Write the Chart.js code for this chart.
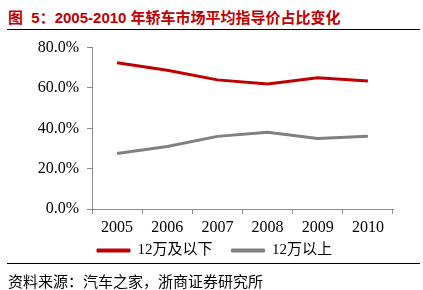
<!DOCTYPE html>
<html>
<head>
<meta charset="utf-8">
<script src="https://cdn.jsdelivr.net/npm/chart.js@4"></script>
<style>
  body { margin: 0; width: 423px; height: 290px; background: #fff; position: relative; overflow: hidden; }
  #title { position: absolute; left: 8px; top: 6px; font: bold 15px "Liberation Sans", "Noto Sans CJK SC"; color: #c00000; white-space: nowrap; }
  .rule { position: absolute; left: 7px; width: 413px; height: 0; border-top: 1.5px solid #000; }
  #source { position: absolute; left: 8px; top: 270px; font: 15px "Liberation Serif", "Noto Sans CJK SC"; color: #000; white-space: nowrap; }
  #wrap { position: absolute; left: 0; top: 30px; width: 423px; height: 238px; }
</style>
</head>
<body>
<div id="title">图&nbsp;&nbsp;5：2005-2010 年轿车市场平均指导价占比变化</div>
<div class="rule" style="top:29px"></div>
<div id="wrap"><canvas id="lineChart"></canvas></div>
<div class="rule" style="top:263px"></div>
<div id="source">资料来源：汽车之家，浙商证券研究所</div>
<script>
// Data
const years = ["2005", "2006", "2007", "2008", "2009", "2010"];
const below12 = [72.5, 68.8, 64.0, 62.0, 65.0, 63.5];
const above12 = [27.5, 31.0, 36.0, 38.0, 35.0, 36.0];
const yTicks = [0, 20, 40, 60, 80];

const serif = "'Liberation Serif', 'Noto Sans CJK SC'";
const axisGrey = "#8c8c8c";

// Legend items: thin line swatch, extra gap after the first entry
const legendLabels = (chart) => {
  const items = Chart.defaults.plugins.legend.labels.generateLabels(chart);
  items.forEach((item) => { item.lineWidth = 1; });
  items[0].text += "\u2003";
  return items;
};

const ctx = document.getElementById("lineChart").getContext("2d");

new Chart(ctx, {
  type: "line",
  data: {
    labels: years,
    datasets: [
      {
        label: "12万及以下",
        data: below12,
        borderColor: "#c00000",
        backgroundColor: "#c00000",
        borderWidth: 3,
        pointRadius: 0,
        tension: 0,
      },
      {
        label: "12万以上",
        data: above12,
        borderColor: "#808080",
        backgroundColor: "#808080",
        borderWidth: 3,
        pointRadius: 0,
        tension: 0,
      },
    ],
  },
  options: {
    responsive: true,
    maintainAspectRatio: false,
    animation: false,
    layout: { padding: { top: 11, right: 0, left: 6, bottom: 0 } },
    plugins: {
      tooltip: { enabled: false },
      legend: {
        position: "bottom",
        labels: {
          boxWidth: 33,
          boxHeight: 3,
          padding: 4,
          color: "#000",
          font: { family: serif, size: 15 },
          generateLabels: legendLabels,
        },
      },
    },
    scales: {
      x: {
        offset: true,
        border: { color: axisGrey, width: 1 },
        grid: { offset: true, drawOnChartArea: false, drawTicks: true, tickLength: 5, color: axisGrey },
        ticks: { color: "#000", font: { family: serif, size: 16 }, padding: 4, maxRotation: 0 },
        afterFit: (scale) => { scale.height = 30; },
      },
      y: {
        min: 0,
        max: 80,
        afterBuildTicks: (scale) => { scale.ticks = yTicks.map((v) => ({ value: v })); },
        afterFit: (scale) => { scale.width = 86; },
        border: { color: axisGrey, width: 1 },
        grid: { drawOnChartArea: false, drawTicks: true, tickLength: 5, color: axisGrey },
        ticks: {
          color: "#000",
          font: { family: serif, size: 16 },
          padding: 8,
          callback: (v) => v.toFixed(1) + "%",
        },
      },
      // empty right-hand spacer so the plot ends where the reference does
      pad: {
        type: "linear",
        position: "right",
        border: { display: false },
        grid: { display: false },
        ticks: { display: false },
        afterFit: (scale) => { scale.width = 30; },
      },
    },
  },
});
</script>
</body>
</html>
